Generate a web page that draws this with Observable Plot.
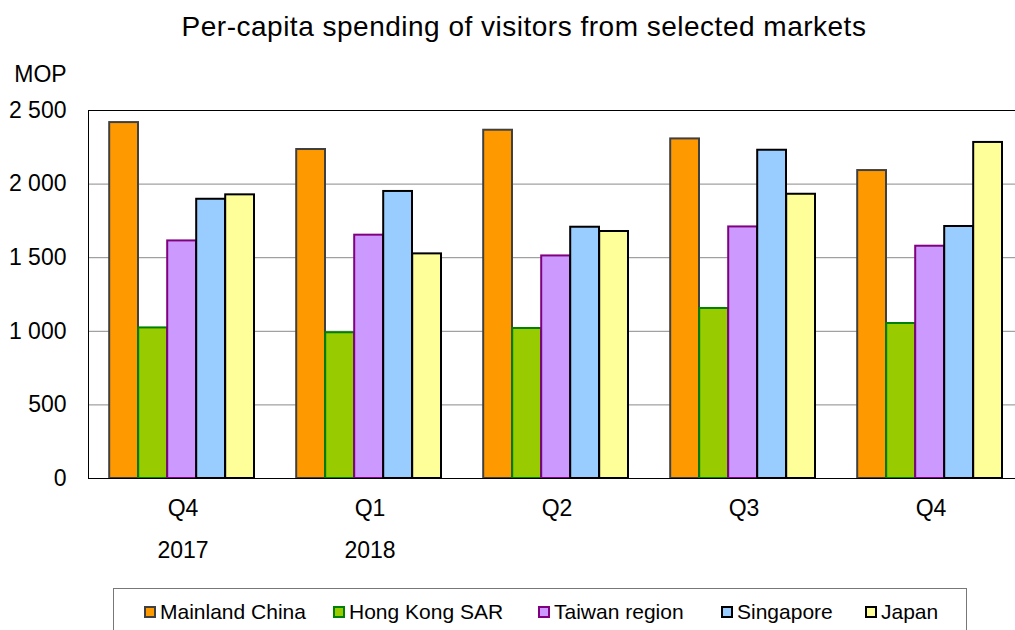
<!DOCTYPE html>
<html>
<head>
<meta charset="utf-8">
<script src="https://cdn.jsdelivr.net/npm/d3@7"></script>
<script src="https://cdn.jsdelivr.net/npm/@observablehq/plot@0.6"></script>
<style>
  html, body { margin: 0; padding: 0; background: #fff; overflow: hidden; }
  body { width: 1015px; height: 630px; position: relative; font-family: "Liberation Sans", Arial, sans-serif; color: #000; }
  #title { position: absolute; top: 13px; left: 33px; width: 982px; text-align: center; font-size: 28px; line-height: 28px; letter-spacing: 0.5px; }
  #chart { position: absolute; top: 60px; left: 0; }
  #legend { position: absolute; top: 588px; left: 113px; width: 854px; height: 60px; border: 1px solid #777; box-sizing: border-box; }
  .lab { position: absolute; top: 601px; font-size: 21px; line-height: 21px; white-space: nowrap; }
  .sw { position: absolute; top: 606px; width: 12px; height: 12px; box-sizing: border-box; border: 2px solid #000; }
</style>
</head>
<body>
<div id="title">Per-capita spending of visitors from selected markets</div>
<div id="chart"></div>
<div id="legend"></div>
<script>
// ---- data ----
const quarters = ["2017 Q4", "2018 Q1", "2018 Q2", "2018 Q3", "2018 Q4"];
const quarterLabels = ["Q4", "Q1", "Q2", "Q3", "Q4"];
const yearLabels = [{k: "2017 Q4", t: "2017"}, {k: "2018 Q1", t: "2018"}];
const seriesNames = ["Mainland China", "Hong Kong SAR", "Taiwan region", "Singapore", "Japan"];
const mainlandChina = [2418, 2235, 2366, 2307, 2092];
const hongKongSAR = [1023, 990, 1019, 1155, 1053];
const taiwanRegion = [1614, 1653, 1512, 1709, 1578];
const singapore = [1897, 1950, 1707, 2230, 1712];
const japan = [1927, 1526, 1678, 1931, 2283];
const yTicks = [0, 500, 1000, 1500, 2000, 2500];
const unitLabel = "MOP";

// ---- styles ----
const fills = ["#FF9900", "#99CC00", "#CC99FF", "#99CCFF", "#FFFF99"];
const strokes = ["#404040", "#008000", "#800080", "#000000", "#000000"];
const legendX = [144, 333, 538, 721, 865];

const seriesValues = [mainlandChina, hongKongSAR, taiwanRegion, singapore, japan];
const fontFamily = '"Liberation Sans", Arial, sans-serif';

const barMarks = seriesNames.map((name, i) => {
  const rows = quarters.map((q, j) => ({quarter: q, value: seriesValues[i][j], series: name}));
  const k = i - 2;
  return Plot.barY(rows, {
    x: "quarter", y: "value",
    fill: fills[i], stroke: strokes[i], strokeWidth: 2,
    insetLeft: 78.2 + 29 * k, insetRight: 80 - 29 * k
  });
});

const chart = Plot.plot({
  width: 1015,
  height: 518,
  marginTop: 50,
  marginBottom: 100,
  marginLeft: 88,
  marginRight: -9,
  style: {fontFamily, fontSize: "23px", background: "white", color: "black"},
  x: {domain: quarters, padding: 0, axis: null},
  y: {domain: [0, 2500], axis: null},
  marks: [
    Plot.ruleY(yTicks.filter(d => d > 0 && d < 2500), {stroke: "#8a8a8a", strokeWidth: 1}),
    Plot.axisY(yTicks, {tickSize: 0, tickPadding: 22, fontSize: 23, fontFamily, label: null,
      tickFormat: d => d3.format(",")(d).replace(/,/g, " ")}),
    Plot.axisX({tickSize: 0, tickPadding: 21, fontSize: 23, fontFamily, label: null,
      tickFormat: d => quarterLabels[quarters.indexOf(d)]}),
    Plot.text(yearLabels, {x: "k", text: "t", frameAnchor: "bottom", lineAnchor: "top", dy: 63, fontSize: 23, fontFamily}),
    Plot.text([unitLabel], {frameAnchor: "top-left", dx: -48, dy: -45, textAnchor: "middle", fontSize: 23, fontFamily}),
    ...barMarks,
    Plot.frame({stroke: "black", strokeWidth: 1})
  ]
});
document.getElementById("chart").appendChild(chart);

// ---- legend ----
seriesNames.forEach((name, i) => {
  const sw = document.createElement("div");
  sw.className = "sw";
  sw.style.left = legendX[i] + "px";
  sw.style.background = fills[i];
  sw.style.borderColor = strokes[i];
  const label = document.createElement("div");
  label.className = "lab";
  label.style.left = (legendX[i] + 16) + "px";
  label.textContent = name;
  document.body.appendChild(sw);
  document.body.appendChild(label);
});
</script>
</body>
</html>
